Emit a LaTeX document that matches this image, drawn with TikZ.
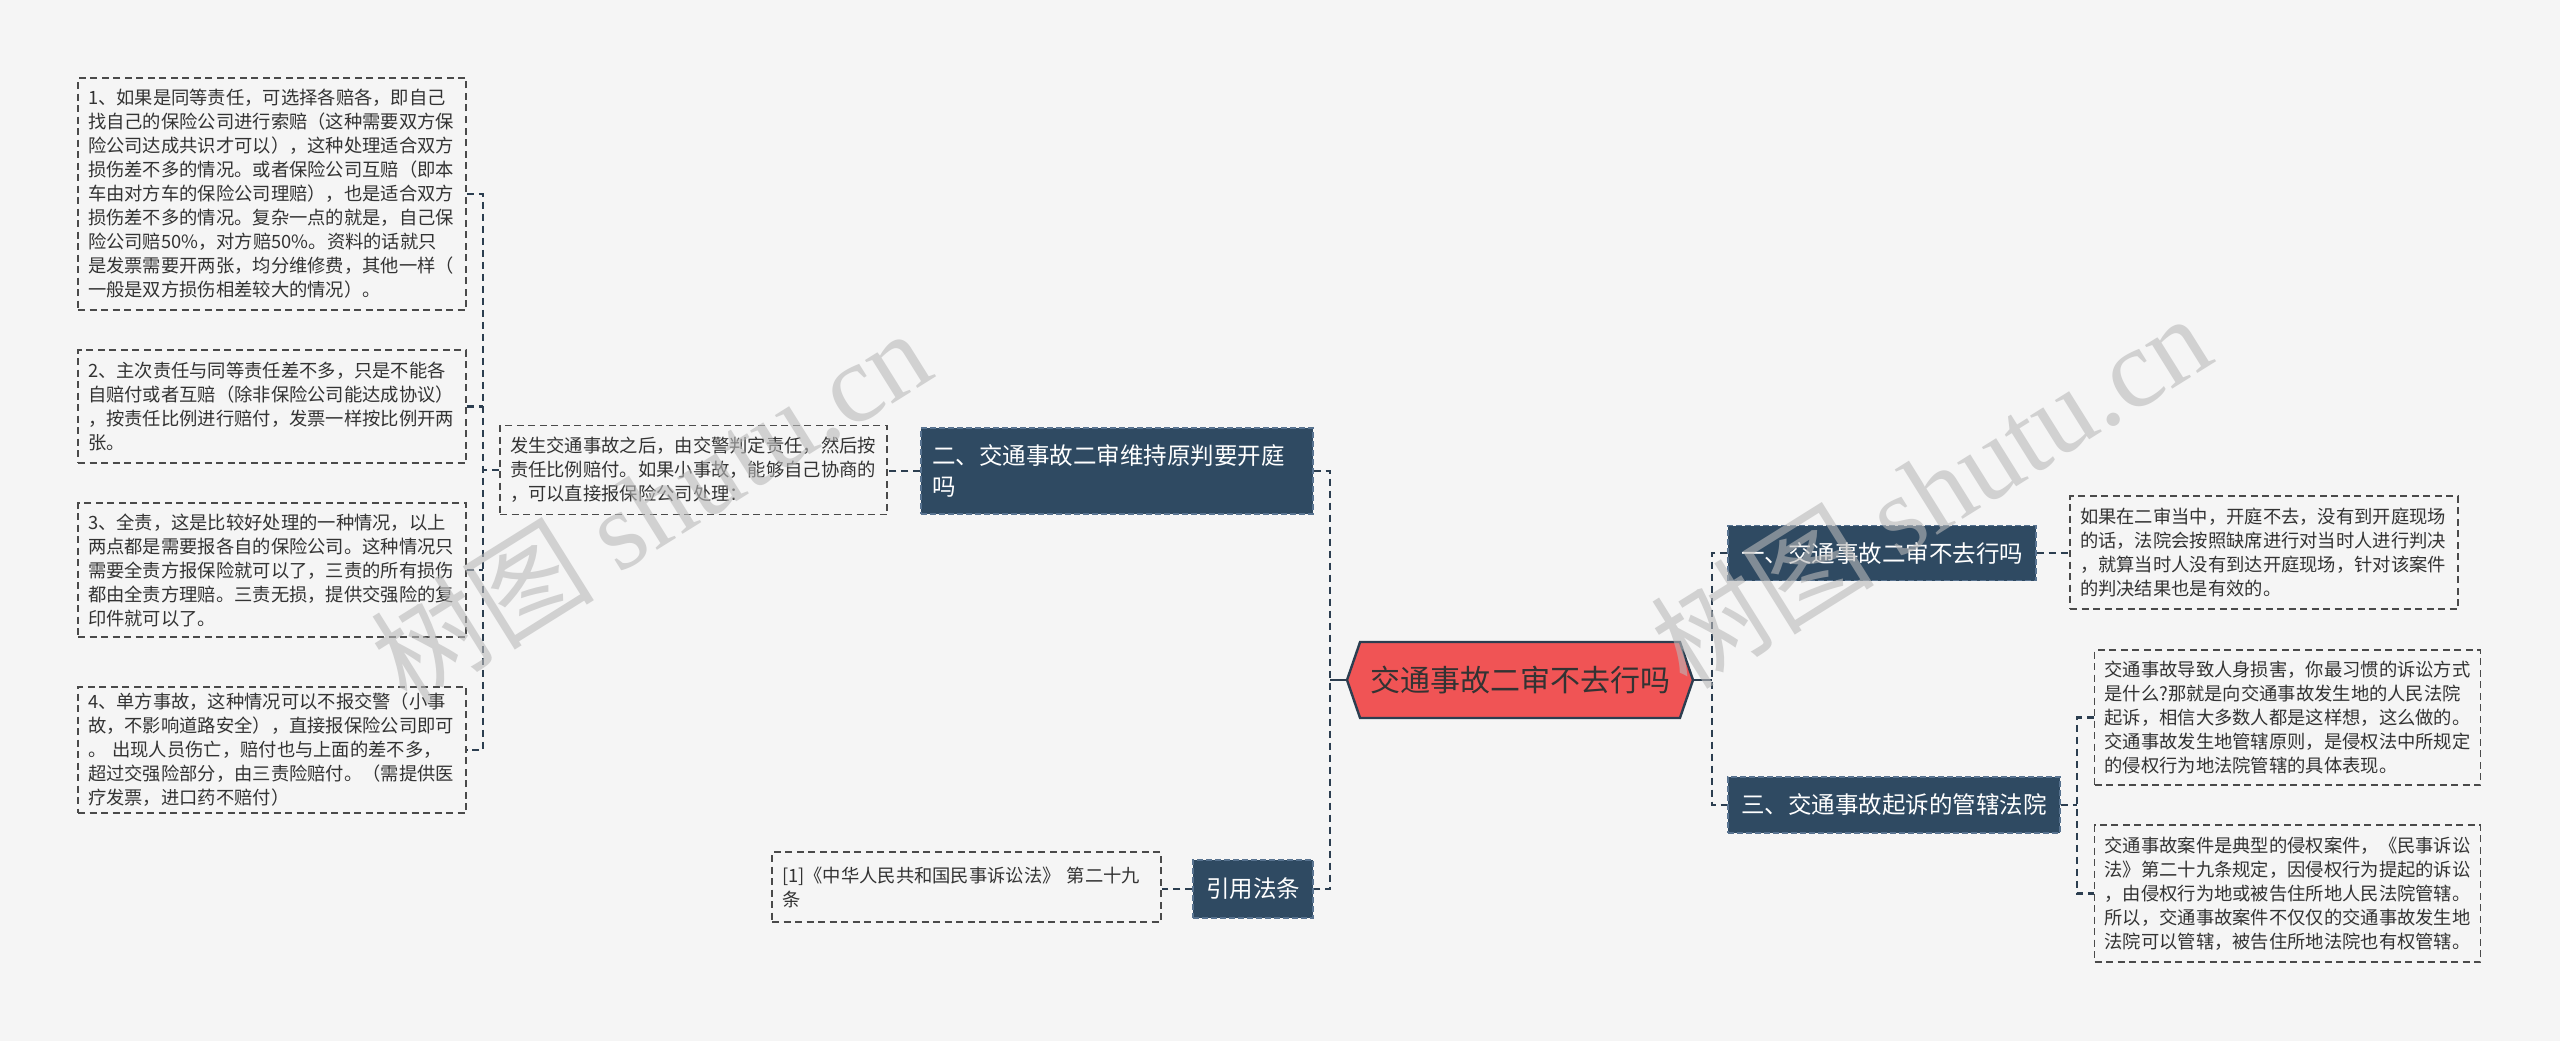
\documentclass[tikz,border=0pt]{standalone}
\usepackage{fontspec}
\setmainfont{Noto Sans CJK SC}
\newfontfamily\wmlatin{Liberation Serif}
\usetikzlibrary{shapes.symbols}
\definecolor{bgcol}{HTML}{F5F5F5}
\definecolor{navy}{HTML}{2F4A62}
\definecolor{navyedge}{HTML}{587390}
\definecolor{rootred}{HTML}{F05455}
\definecolor{linkcol}{HTML}{2C3E50}
\definecolor{leafedge}{HTML}{4A4A4A}
\definecolor{txt}{HTML}{333333}

\begin{document}
\begin{tikzpicture}[x=1pt, y=-1pt,
	leaf/.style={draw=leafedge, line width=1.6pt, dash pattern=on 7pt off 4.5pt, text=txt, align=left, inner xsep=10pt, inner ysep=0pt, font=\fontsize{18.3}{24}\selectfont},
	topic/.style={fill=navy, draw=navyedge, line width=1.4pt, dash pattern=on 6pt off 3pt, text=white, inner sep=0pt, font=\fontsize{23.5}{31}\selectfont},
	link/.style={draw=linkcol, line width=2.2pt, dash pattern=on 7pt off 5pt},
	stem/.style={draw=linkcol, line width=2.6pt},
	wm/.style={text=gray!55, opacity=0.6, font=\fontsize{112}{120}\selectfont, rotate=32}]
	\useasboundingbox[fill=bgcol] (0,0) rectangle (2560,1041);

	\node[signal, signal to=west and east, signal pointer angle=142, minimum width=346pt, minimum height=76pt, inner sep=0pt, fill=rootred, draw=linkcol, line width=2.4pt, text=txt, font=\fontsize{30}{36}\selectfont] (root) at (1520,680) {交通事故二审不去行吗};

	\node[topic, align=left, text width=370pt, inner xsep=11pt, minimum height=86pt] (n2) at (1117,471) {二、交通事故二审维持原判要开庭\\吗};
	\node[topic, minimum width=120pt, minimum height=58pt] (law) at (1253,889) {引用法条};
	\node[topic, minimum width=308pt, minimum height=55pt] (n1) at (1882,553) {一、交通事故二审不去行吗};
	\node[topic, minimum width=332pt, minimum height=56pt] (n3) at (1894,805) {三、交通事故起诉的管辖法院};

	\node[leaf, text width=367pt, minimum height=89pt] (mid) at (693.5,470) {发生交通事故之后，由交警判定责任，然后按\\责任比例赔付。如果小事故，能够自己协商的\\，可以直接报保险公司处理：};
	\node[leaf, text width=369pt, minimum height=70pt] (cite) at (966.5,887) {[1]《中华人民共和国民事诉讼法》 第二十九\\条};

	\node[leaf, text width=368pt, minimum height=232pt] (b1) at (272,194) {1、如果是同等责任，可选择各赔各，即自己\\找自己的保险公司进行索赔（这种需要双方保\\险公司达成共识才可以），这种处理适合双方\\损伤差不多的情况。或者保险公司互赔（即本\\车由对方车的保险公司理赔），也是适合双方\\损伤差不多的情况。复杂一点的就是，自己保\\险公司赔50\%，对方赔50\%。资料的话就只\\是发票需要开两张，均分维修费，其他一样（\\一般是双方损伤相差较大的情况）。};
	\node[leaf, text width=368pt, minimum height=113pt] (b2) at (272,406.5) {2、主次责任与同等责任差不多，只是不能各\\自赔付或者互赔（除非保险公司能达成协议）\\，按责任比例进行赔付，发票一样按比例开两\\张。};
	\node[leaf, text width=368pt, minimum height=134pt] (b3) at (272,570) {3、全责，这是比较好处理的一种情况，以上\\两点都是需要报各自的保险公司。这种情况只\\需要全责方报保险就可以了，三责的所有损伤\\都由全责方理赔。三责无损，提供交强险的复\\印件就可以了。};
	\node[leaf, text width=368pt, minimum height=126pt] (b4) at (272,750) {4、单方事故，这种情况可以不报交警（小事\\故，不影响道路安全），直接报保险公司即可\\。 出现人员伤亡，赔付也与上面的差不多，\\超过交强险部分，由三责险赔付。（需提供医\\疗发票，进口药不赔付）};

	\node[leaf, text width=368pt, minimum height=113pt] (ra) at (2264,552.5) {如果在二审当中，开庭不去，没有到开庭现场\\的话，法院会按照缺席进行对当时人进行判决\\，就算当时人没有到达开庭现场，针对该案件\\的判决结果也是有效的。};
	\node[leaf, text width=366pt, minimum height=135pt] (rb) at (2287.5,717.5) {交通事故导致人身损害，你最习惯的诉讼方式\\是什么?那就是向交通事故发生地的人民法院\\起诉，相信大多数人都是这样想，这么做的。\\交通事故发生地管辖原则，是侵权法中所规定\\的侵权行为地法院管辖的具体表现。};
	\node[leaf, text width=366pt, minimum height=137pt] (rc) at (2287.5,893.5) {交通事故案件是典型的侵权案件，《民事诉讼\\法》第二十九条规定，因侵权行为提起的诉讼\\，由侵权行为地或被告住所地人民法院管辖。\\所以，交通事故案件不仅仅的交通事故发生地\\法院可以管辖，被告住所地法院也有权管辖。};

	\coordinate (trunkL) at (1330,680);
	\coordinate (trunkR) at (1712,680);
	\coordinate (trunkM) at (483,470);
	\coordinate (trunk3) at (2077,805);

	\draw[stem] (root.west) -- (trunkL);
	\draw[stem] (root.east) -- (trunkR);
	\draw[link] (n2.east) -| (trunkL) |- (law.east);
	\draw[link] (n1.west) -| (trunkR) |- (n3.west);

	\draw[link] (n2.west) -- (n2.west -| mid.east);
	\draw[link] (law.west) -- (law.west -| cite.east);
	\draw[link] (mid.west) -- (trunkM);
	\draw[link] (b1.east) -| (trunkM) |- (b4.east);
	\draw[link] (b2.east) -- (b2.east -| trunkM);
	\draw[link] (b3.east) -- (b3.east -| trunkM);

	\draw[link] (n1.east) -- (n1.east -| ra.west);
	\draw[link] (n3.east) -- (trunk3);
	\draw[link] (rb.west) -| (trunk3) |- (rc.west);

	\node[wm] (wmL) at (650,505) {树图 {\wmlatin shutu.cn}};
	\node[wm] (wmR) at (1930,490) {树图 {\wmlatin shutu.cn}};
\end{tikzpicture}
\end{document}
